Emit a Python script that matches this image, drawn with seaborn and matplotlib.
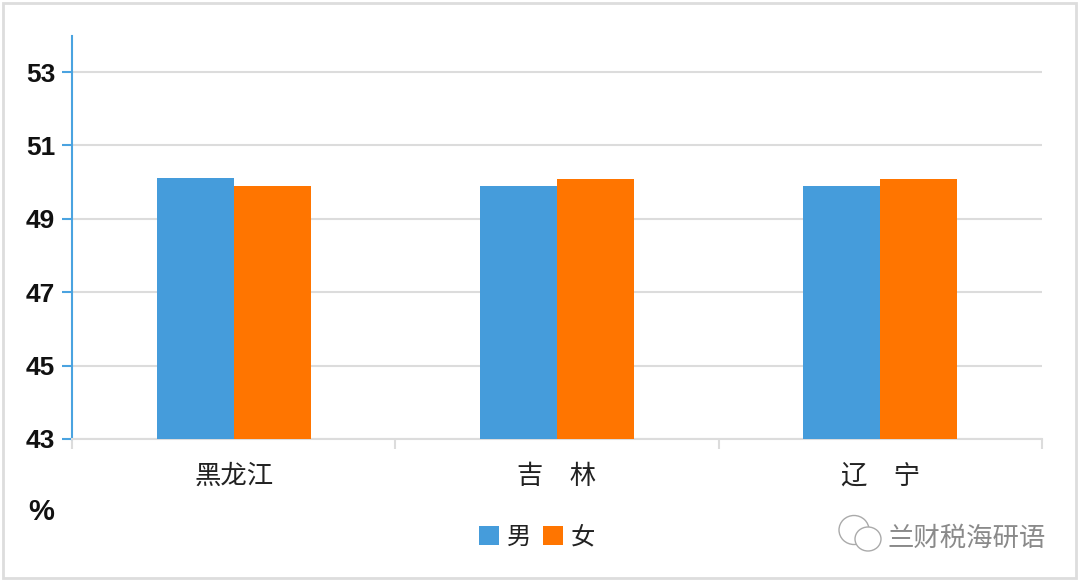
import pandas as pd
import seaborn as sns
import matplotlib
matplotlib.use("Agg")
import matplotlib.pyplot as plt
from matplotlib.patches import Rectangle, Ellipse

provinces = ["黑龙江", "吉　林", "辽　宁"]
male = [50.1, 49.9, 49.9]
female = [49.9, 50.08, 50.08]
y_ticks = [43, 45, 47, 49, 51, 53]
colors = {"男": "#459cdb", "女": "#ff7500"}

sns.set_theme(style="white")
plt.rcParams['font.family'] = ['Noto Sans CJK SC', 'DejaVu Sans']

W, H = 1080, 583
fig = plt.figure(figsize=(W / 100, H / 100), dpi=100)
ax = fig.add_axes([72 / W, 1 - 439 / H, 970 / W, 403 / H])
ax.patch.set_alpha(0)

df = pd.DataFrame({
    "省": provinces * 2,
    "性别": ["男"] * 3 + ["女"] * 3,
    "值": male + female,
})
sns.barplot(data=df, x="省", y="值", hue="性别", palette=colors, width=0.477,
            gap=0, saturation=1, linewidth=0, ax=ax, zorder=3)

ax.set_xlim(-0.5, 2.5)
ax.set_ylim(43, 43 + 403 / 36.7)
ax.set_xlabel("")
ax.set_ylabel("")

ax.set_yticks(y_ticks)
ax.set_yticklabels([str(v) for v in y_ticks], family="Liberation Sans",
                   fontweight="bold", fontsize=19, color="#111111")
ax.tick_params(axis="y", length=7, width=1.5, color="#4aa3e0", left=True, pad=5)
ax.yaxis.grid(True, color="#dcdcdc", linewidth=1.5)
ax.set_axisbelow(True)

ax.set_xticks([0, 1, 2])
ax.set_xticklabels(provinces, fontsize=19, color="#222222")
ax.set_xticks([-0.5, 0.5, 1.5, 2.5], minor=True)
ax.tick_params(axis="x", which="major", length=0, pad=17)
ax.tick_params(axis="x", which="minor", length=7, width=1.5, color="#dcdcdc", bottom=True)

for s in ["top", "right"]:
    ax.spines[s].set_visible(False)
ax.spines["left"].set_color("#4aa3e0")
ax.spines["left"].set_linewidth(1.5)
ax.spines["bottom"].set_color("#dcdcdc")
ax.spines["bottom"].set_linewidth(1.5)

handles, labels = ax.get_legend_handles_labels()
fig.legend(handles, labels, ncol=2, frameon=False, fontsize=17.5,
           loc="center", bbox_to_anchor=(537 / W, 1 - 537 / H),
           handlelength=0.8, handleheight=0.8, handletextpad=0.33,
           columnspacing=0.5, borderpad=0, labelcolor="#222222")
if ax.get_legend():
    ax.get_legend().remove()

fig.text(41 / W, 1 - 512 / H, "%", family="Liberation Sans", fontsize=21,
         fontweight="bold", color="#111111", ha="center", va="center")

# watermark
fig.text(967 / W, 1 - 538 / H, "兰财税海研语", fontsize=19, color="#8a8a8a",
         fontweight="light", ha="center", va="center")
for cx, cy, w, h in [(854, 530, 30, 29), (868, 539, 26, 24)]:
    fig.add_artist(Ellipse((cx / W, 1 - cy / H), w / W, h / H, transform=fig.transFigure,
                           facecolor="white", edgecolor="#aaaaaa", linewidth=1))

# outer frame
fig.add_artist(Rectangle((3 / W, 1 - 578 / H), 1073 / W, 575 / H, transform=fig.transFigure,
                         fill=False, edgecolor="#dddddd", linewidth=2))

fig.savefig("out.png", dpi=100)
